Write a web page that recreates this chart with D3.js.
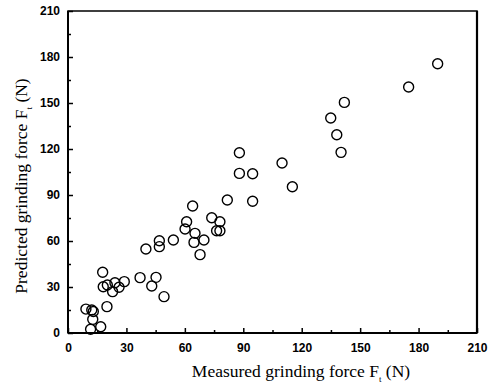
<!DOCTYPE html>
<html><head><meta charset="utf-8">
<script src="https://cdn.jsdelivr.net/npm/d3@7"></script>
<style>body{margin:0;background:#fff}</style>
</head><body>
<svg id="c" width="495" height="387"></svg>
<script>
const measured = [9.2,12.2,13,12.7,11.6,16.8,17.8,18.1,20.2,22.9,24.1,26.2,28.9,20.0,
  37.0,40.0,43.0,45.2,46.9,46.9,49.3,54.1,60.1,60.9,64.0,65.2,64.7,67.8,69.8,73.8,76.3,78.0,78.0,81.8,
  88.0,88.0,94.8,94.8,109.9,115.2,134.9,138.0,140.2,141.9,174.9,189.8];
const predicted = [15.6,15.0,14.0,8.9,2.4,4.1,39.6,30.2,31.3,27.0,32.8,29.8,33.5,17.2,
  36.1,54.8,30.7,36.3,60.2,56.3,23.7,60.7,67.8,72.6,82.8,65.0,59.1,51.1,60.7,75.2,66.7,66.7,72.6,86.7,
  117.6,104.1,103.9,85.9,110.9,95.4,140.2,129.3,117.8,150.4,160.4,175.6];
const xTicks = [0,30,60,90,120,150,180,210];
const yTicks = [0,30,60,90,120,150,180,210];
const minorTicks = [15,45,75,105,135,165,195];

const svg = d3.select("#c");
const L=68,R=477,T=11,B=333;
const x = d3.scaleLinear().domain([0,210]).range([L,R]);
const y = d3.scaleLinear().domain([0,210]).range([B,T]);

// frame
svg.append("rect").attr("x",L).attr("y",T).attr("width",R-L).attr("height",B-T)
  .attr("fill","none").attr("stroke","#000").attr("stroke-width",1.5);
svg.append("line").attr("x1",R).attr("x2",R).attr("y1",T).attr("y2",B).attr("stroke","#000").attr("stroke-width",2.2);
svg.append("line").attr("x1",L).attr("x2",R).attr("y1",B).attr("y2",B).attr("stroke","#000").attr("stroke-width",2);
svg.append("line").attr("x1",L).attr("x2",L).attr("y1",T).attr("y2",B).attr("stroke","#000").attr("stroke-width",2);

const xAxis = svg.append("g").attr("transform",`translate(0,${B})`)
  .call(d3.axisBottom(x).tickValues(xTicks).tickSize(-5).tickPadding(10).tickFormat(d3.format("d")));
const xMin = svg.append("g").attr("transform",`translate(0,${B})`)
  .call(d3.axisBottom(x).tickValues(minorTicks).tickSize(-3).tickFormat(""));
const yAxis = svg.append("g").attr("transform",`translate(${L},0)`)
  .call(d3.axisLeft(y).tickValues(yTicks).tickSize(-5).tickPadding(8).tickFormat(d3.format("d")));
const yMin = svg.append("g").attr("transform",`translate(${L},0)`)
  .call(d3.axisLeft(y).tickValues(minorTicks).tickSize(-3).tickFormat(""));
[xAxis,xMin,yAxis,yMin].forEach(g=>{
  g.select(".domain").remove();
  g.selectAll("line").attr("stroke","#000").attr("stroke-width",1.5);
  g.selectAll("text").attr("fill","#000").style("font-family","'Liberation Sans', Arial, sans-serif")
   .style("font-size","12px").style("font-weight","bold");
});

// points
svg.append("g").selectAll("circle").data(measured.map((m,i)=>[m,predicted[i]])).join("circle")
  .attr("cx",d=>x(d[0])).attr("cy",d=>y(d[1])).attr("r",5)
  .attr("fill","none").attr("stroke","#000").attr("stroke-width",1.4);

// titles
const xt = svg.append("text").attr("x",301).attr("y",377).attr("text-anchor","middle")
  .style("font-family","'Liberation Serif', 'Times New Roman', serif").style("font-size","17.5px");
xt.append("tspan").text("Measured grinding force F");
xt.append("tspan").text("t").attr("dy",5).style("font-size","9px");
xt.append("tspan").text(" (N)").attr("dy",-5);

const yt = svg.append("text").attr("transform","translate(27,186) rotate(-90)").attr("text-anchor","middle")
  .style("font-family","'Liberation Serif', 'Times New Roman', serif").style("font-size","17.5px");
yt.append("tspan").text("Predicted grinding force F");
yt.append("tspan").text("t").attr("dy",5).style("font-size","9px");
yt.append("tspan").text(" (N)").attr("dy",-5);
</script>
</body></html>
